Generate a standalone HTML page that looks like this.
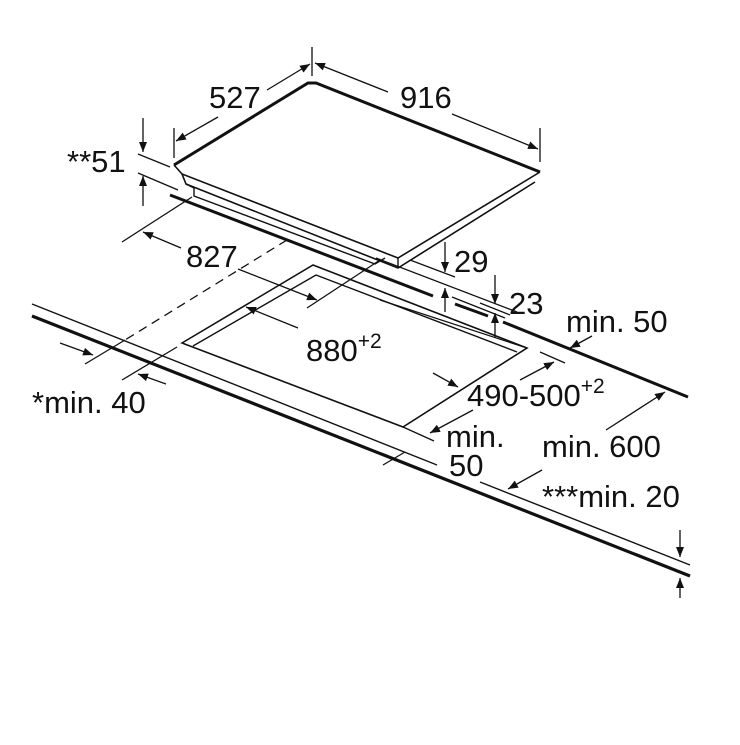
<!DOCTYPE html>
<html><head><meta charset="utf-8"><style>
html,body{margin:0;padding:0;background:#fff;}
text{font-family:"Liberation Sans",sans-serif;font-size:31px;fill:#111;}
</style></head><body>
<svg width="740" height="740" viewBox="0 0 740 740" xmlns="http://www.w3.org/2000/svg">
<defs>
<marker id="a" markerWidth="10" markerHeight="8" refX="10" refY="4" orient="auto" markerUnits="userSpaceOnUse">
<path d="M0,0 L10,4 L0,8 z" fill="#111"/></marker>
</defs>
<g stroke="#111" fill="none" stroke-linecap="butt">
<path d="M174,165 L308,83 L316,83 L540,172" stroke-width="3"/>
<path d="M174,165 L182,174 L398,258 L540,172" stroke-width="1.6"/>
<path d="M182,174 L186,184 L398,268 L535,182" stroke-width="1.6"/>
<path d="M398,258 L398,268" stroke-width="1.4"/>
<path d="M186,184 L194,188 L194,196 L375,264 L385,258" stroke-width="1.4"/>
<path d="M170,195 L433,296" stroke-width="3"/>
<path d="M455,304 L488,316" stroke-width="3"/>
<path d="M503,322 L688,397" stroke-width="3"/>
<path d="M376,258 L517,312" stroke-width="1.3"/>
<path d="M410,260 L455,277" stroke-width="1.3"/>
<path d="M452,297 L505,318" stroke-width="1.3"/>
<path d="M480,303 L510,315" stroke-width="1.3"/>
<path d="M380,300 L527,348 M540,352 L565,363" stroke-width="1.3"/>
<path d="M32,304 L437,465 M480,482 L690,565" stroke-width="1.4"/>
<path d="M32,316 L690,576" stroke-width="3.2"/>
<path d="M182,343 L313,265 L527,348 L403,427 Z" stroke-width="1.6"/>
<path d="M193,346 L316,275 L517,352" stroke-width="1.4"/>
<path d="M287,240 L125,340" stroke-width="1.3" stroke-dasharray="9,6"/>
<path d="M125,340 L85,364" stroke-width="1.3"/>
<path d="M177,347 L122,380" stroke-width="1.3"/>
<path d="M312,47 L312,76 M174,128 L174,158 M540,128 L540,162" stroke-width="1.3"/>
<path d="M218,117 L176,141" stroke-width="1.3" marker-end="url(#a)"/>
<path d="M267,90 L310,64" stroke-width="1.3" marker-end="url(#a)"/>
<path d="M388,92 L315,63" stroke-width="1.3" marker-end="url(#a)"/>
<path d="M452,114 L538,149" stroke-width="1.3" marker-end="url(#a)"/>
<path d="M138,154 L170,167 M138,173 L178,190" stroke-width="1.3"/>
<path d="M143,118 L143,152" stroke-width="1.3" marker-end="url(#a)"/>
<path d="M143,206 L143,176" stroke-width="1.3" marker-end="url(#a)"/>
<path d="M122,242 L192,197" stroke-width="1.3"/>
<path d="M181,248 L143,232" stroke-width="1.3" marker-end="url(#a)"/>
<path d="M238,269 L317,300" stroke-width="1.3" marker-end="url(#a)"/>
<path d="M307,308 L380,260" stroke-width="1.3"/>
<path d="M445,242 L445,272" stroke-width="1.3" marker-end="url(#a)"/>
<path d="M445,312 L445,288" stroke-width="1.3" marker-end="url(#a)"/>
<path d="M495,275 L495,304" stroke-width="1.3" marker-end="url(#a)"/>
<path d="M495,338 L495,313" stroke-width="1.3" marker-end="url(#a)"/>
<path d="M592,336 L570,348" stroke-width="1.3" marker-end="url(#a)"/>
<path d="M298,328 L246,307" stroke-width="1.3" marker-end="url(#a)"/>
<path d="M433,373 L458,387" stroke-width="1.3" marker-end="url(#a)"/>
<path d="M520,380 L554,362" stroke-width="1.3" marker-end="url(#a)"/>
<path d="M473,410 L430,433" stroke-width="1.3" marker-end="url(#a)"/>
<path d="M403,427 L434,441" stroke-width="1.3"/>
<path d="M606,430 L665,392" stroke-width="1.3" marker-end="url(#a)"/>
<path d="M542,470 L508,489" stroke-width="1.3" marker-end="url(#a)"/>
<path d="M383,465 L405,452" stroke-width="1.3"/>
<path d="M680,530 L680,557" stroke-width="1.3" marker-end="url(#a)"/>
<path d="M680,598 L680,578" stroke-width="1.3" marker-end="url(#a)"/>
<path d="M60,343 L93,355" stroke-width="1.3" marker-end="url(#a)"/>
<path d="M166,384 L138,374" stroke-width="1.3" marker-end="url(#a)"/>
</g>
<text x="209" y="108">527</text>
<text x="400" y="108">916</text>
<text x="67" y="172">**51</text>
<text x="186" y="267">827</text>
<text x="454" y="272">29</text>
<text x="509" y="314">23</text>
<text x="566" y="332">min. 50</text>
<text x="306" y="361">880<tspan font-size="21" dy="-13">+2</tspan></text>
<text x="467" y="406">490-500<tspan font-size="21" dy="-13">+2</tspan></text>
<text x="446" y="447">min.</text>
<text x="449" y="476">50</text>
<text x="542" y="457">min. 600</text>
<text x="542" y="507">***min. 20</text>
<text x="32" y="413">*min. 40</text>
</svg>
</body></html>
